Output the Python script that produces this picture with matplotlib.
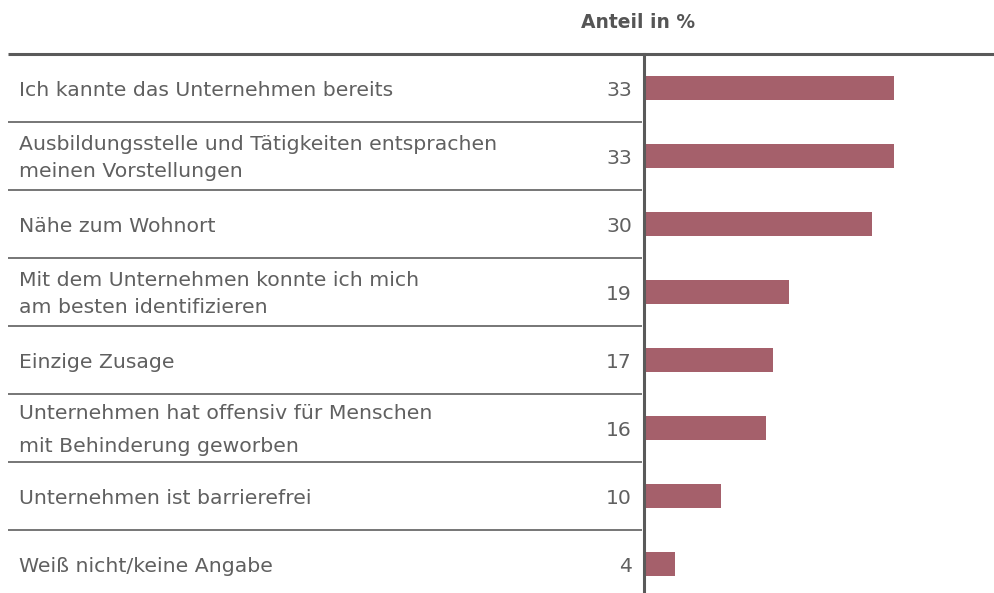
import numpy as np
import matplotlib.pyplot as plt
from matplotlib import transforms

categories = [
    "Ich kannte das Unternehmen bereits",
    "Ausbildungsstelle und Tätigkeiten entsprachen\nmeinen Vorstellungen",
    "Nähe zum Wohnort",
    "Mit dem Unternehmen konnte ich mich\nam besten identifizieren",
    "Einzige Zusage",
    "Unternehmen hat offensiv für Menschen\nmit Behinderung geworben",
    "Unternehmen ist barrierefrei",
    "Weiß nicht/keine Angabe",
]
values = [33, 33, 30, 19, 17, 16, 10, 4]
header = "Anteil in %"

W, H = 994, 593
fig = plt.figure(figsize=(W / 100, H / 100), dpi=100)
ax = fig.add_axes([0, 0, 1, 1])

px_per_unit = 7.55
x0_px, top_px, row_px = 644, 54, 68
ax.set_xlim(-x0_px / px_per_unit, (W - x0_px) / px_per_unit)
ax.set_ylim((H - top_px) / row_px - 0.5, -top_px / row_px - 0.5)
ax.axis('off')

bar_col = '#a5606b'
txt_col = '#606060'
line_col = '#6b6b6b'
font = 'DejaVu Sans'

y = np.arange(len(values))
ax.barh(y, values, height=0.36, color=bar_col, left=0.15, zorder=2)

# px -> axes fraction along x
def fx(px):
    return px / W

trans = transforms.blended_transform_factory(ax.transAxes, ax.transData)

# top rule and row separators
ax.plot([fx(8), 1], [-0.5, -0.5], transform=trans, color='#5a5a5a', lw=2.2, solid_capstyle='butt', zorder=3)
for i in range(1, len(values)):
    ax.plot([fx(8), fx(642)], [i - 0.5, i - 0.5], transform=trans, color=line_col, lw=1.3,
            solid_capstyle='butt', zorder=3)
ax.axvline(0, ymin=0, ymax=(H - top_px) / H, color='#5a5a5a', lw=2.2, zorder=3)

spacing = [1.5, 1.5, 1.5, 1.5, 1.5, 1.95, 1.5, 1.5]
for i, (lab, v) in enumerate(zip(categories, values)):
    ax.text(fx(19), i + 0.03, lab, transform=trans, ha='left', va='center', fontsize=14.7,
            color=txt_col, family=font, linespacing=spacing[i])
    ax.text(fx(632), i + 0.03, str(v), transform=trans, ha='right', va='center', fontsize=14.7,
            color=txt_col, family=font)

fig.text(fx(638), 1 - 22 / H, header, ha='center', va='center', fontsize=13.5,
         fontweight='bold', color='#555555', family=font)

fig.savefig('out.png', dpi=100)
